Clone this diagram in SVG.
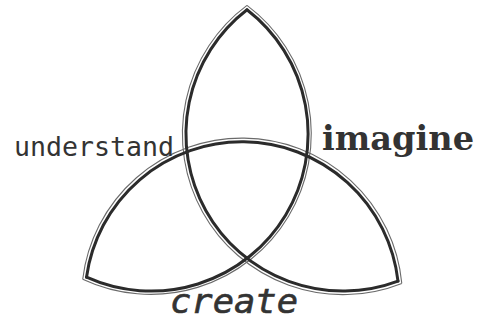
<svg xmlns="http://www.w3.org/2000/svg" width="480" height="320" viewBox="0 0 480 320">
<style>
.main{fill:none;stroke:#2b2b2b;stroke-width:3;stroke-linecap:round;stroke-linejoin:round}
.ghost{fill:none;stroke:#6a6a6a;stroke-width:1.1}
.lbl{fill:#333}
</style>
<rect width="480" height="320" fill="#fff"/>
<g id="connectors">
<path class="ghost" d="M247,5.4 A160.5,160.5 0 0 0 401.8,283.4"/>
<path class="ghost" d="M247,5.4 A160.5,160.5 0 0 1 82.7,279.2"/>
<path class="ghost" d="M82.7,279.2 A160.5,160.5 0 0 1 401.8,283.4"/>
<path class="main" d="M247,9.8 A157,157 0 0 0 398,281.1"/>
<path class="main" d="M247,9.8 A157,157 0 0 1 86.5,277.2"/>
<path class="main" d="M86.5,277.2 A157,157 0 0 1 398,281.1"/>
</g>
<g id="understand">
<text class="lbl" x="14" y="156" font-family="DejaVu Sans Mono, monospace" font-size="27" textLength="160" lengthAdjust="spacingAndGlyphs">understand</text>
</g>
<g id="imagine">
<text class="lbl" x="322" y="150" font-family="DejaVu Serif, serif" font-weight="bold" font-size="33" textLength="152" lengthAdjust="spacingAndGlyphs">imagine</text>
</g>
<g id="create">
<text class="lbl" x="170" y="313" font-family="DejaVu Sans Mono, monospace" font-style="italic" font-size="33" stroke="#333" stroke-width="0.6" textLength="128" lengthAdjust="spacingAndGlyphs">create</text>
</g>
</svg>
